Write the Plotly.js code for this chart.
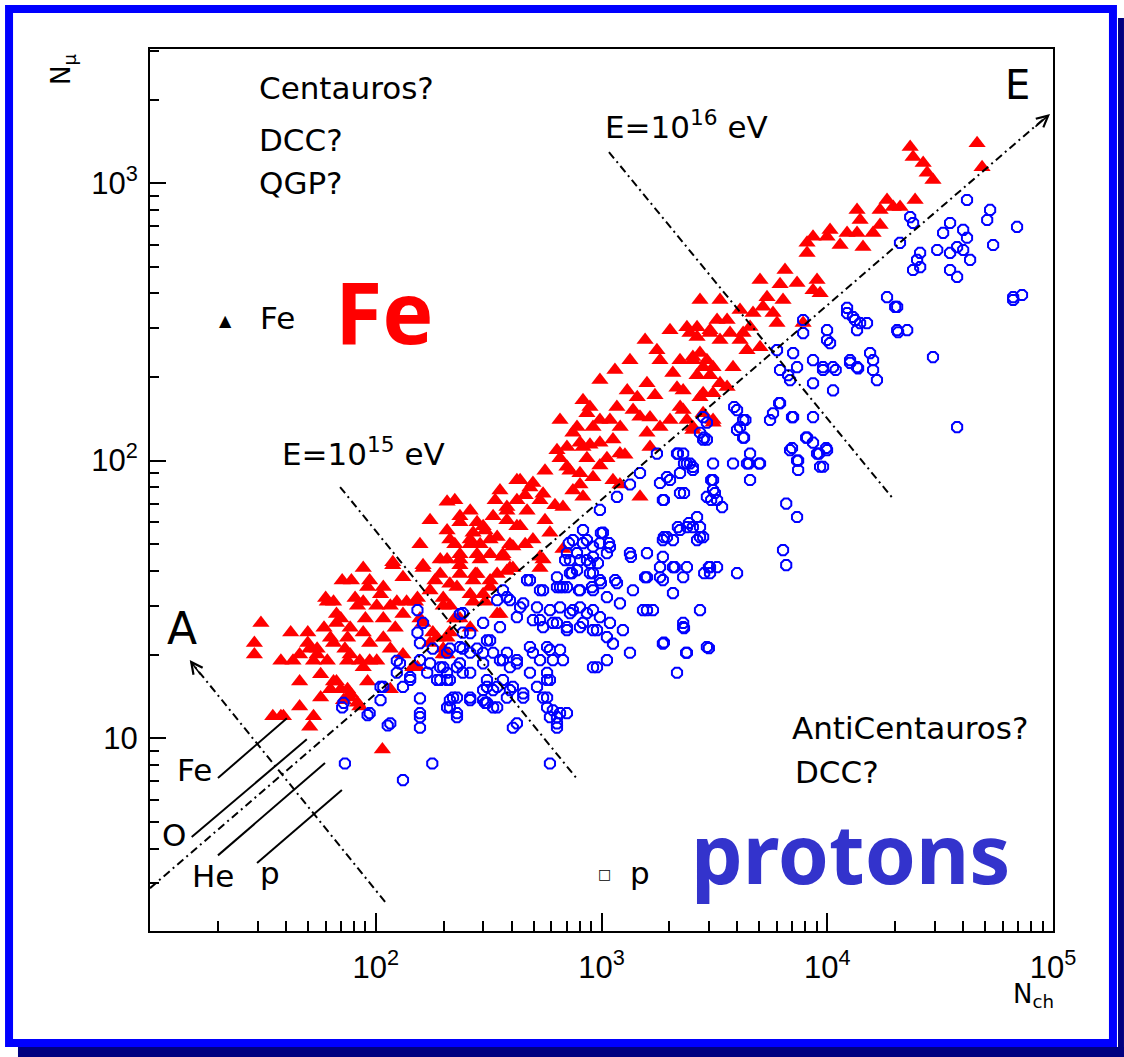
<!DOCTYPE html>
<html><head><meta charset="utf-8">
<script src="https://cdn.plot.ly/plotly-3.0.1.min.js"></script>
<style>html,body{margin:0;padding:0;background:#fff;} #chart{width:1124px;height:1057px;}</style>
</head><body><div id="chart"></div>
<script>
// Fe (red triangles): N_ch and N_mu
const feNch = [207,236,236,281,88,119,162,71,78,94,108,132,60,65,81,83,70,67,101,108,124,137,153,174,199,213,31,42,50,29,29,51,55,63,65,75,88,94,108,43,46,53,61,75,85,94,57,65,70,63,75,77,83,72,92,132,146,116,174,207,162,187,46,53,51,35,38,107,85,224,262,305,193,236,276,321,213,262,305,193,207,299,422,482,551,675,779,828,889,635,703,803,381,422,497,551,675,591,366,321,262,236,281,345,393,299,199,345,179,199,213,157,132,116,105,92,88,162,119,61,67,77,116,101,88,77,55,50,67,77,153,199,355,39,
2390,2650,3025,3250,1760,1816,2540,2820,3025,2650,2070,2160,1590,1440,1300,1380,1480,1590,1640,1170,1090,1210,984,828,862,917,1124,1207,1057,984,747,803,703,655,862,803,917,1124,1207,747,828,1481,534,2011,2300,2540,2820,3120,1816,2731,436,497,422,534,468,381,381,436,331,345,393,270,213,236,281,366,405,236,270,321,
23300,24000,26600,27700,29400,46100,48500,18400,19600,17140,21020,13550,13980,13550,14400,15960,12240,9980,8650,8140,8140,9010,8650,9300,7350,6180,6370,5410,5190,5750,5990,4690,4550,7820,4240,4108,3600,3710,3350,3025,2466,2650,4410,5040,2730,2540,2930,3120,3825,3350,3600,3120,2820,2300,2230,2390,2540,3120,
534,381,321,270,236,207,229,290,207,405,
224,262,338,355,459,622,562,459,290,174,157,183,150,122,90,73,59,38,46,57,224,262,
984,1147,1337,1560,2011,1725,984,725,889,655,562,1270,1640,2227,2731,3350,4108,5038,6500,10290,11400,17140,24500];
const feNmu = [71,63,60,60,41,42,42,37,37,37,35,38,32,31,32,30,27,26,30,27,31,31,32,34,32,30,26,24,24,22,20,21,21,23,22,23,24,22,23,19,20,19,19,19,19,19,17,16,15,15,15,14,13.4,13.7,16,20,18,15,22,20,26,23,13,12,11,12,12,9.1,13,50,52,56,44,42,39,46,36,33,31,39,56,58,85,80,76,68,132,112,156,109,95,82,66,58,52,44,48,55,46,52,50,44,39,39,41,33,30,28,24,21,24,27,28,30,33,35,31,41,43,31,28,25,21,19,18,20,20,22,16,14.5,18,20,28,12,
302,302,295,321,250,230,236,217,203,203,207,183,190,169,179,152,144,126,112,156,140,132,140,165,148,132,119,106,102,116,126,116,112,102,102,90,87,85,82,78,74,74,45,140,152,132,148,140,132,169,85,83,72,72,66,68,61,58,63,53,50,55,52,46,46,45,41,39,37,37,
1350,1240,1180,1090,1025,1390,1140,869,820,800,820,800,736,661,588,661,661,640,640,609,560,447,411,401,436,432,379,388,358,340,313,340,303,313,288,272,321,288,272,288,288,279,250,256,244,230,230,217,217,190,184,175,175,179,156,140,129,137,
41,40,35,31,27,23,35,44,44,49,
72,66,72,78,75,69,61,50,50,61,50,37,31,25,27,21,25,19,16,14,27,25,
195,212,230,272,295,172,96,92,114,140,92,105,143,230,379,379,349,447,486,678,598,706,869];

// protons (blue open markers): N_ch and N_mu
const pNch = [236,299,243,153,157,179,213,243,281,124,174,199,236,262,299,124,142,187,213,311,105,132,157,220,262,299,207,229,305,71,92,113,157,157,73,178,132,153,162,
747,828,917,725,889,779,917,482,551,675,803,917,366,393,345,450,518,591,655,725,803,917,422,497,551,635,703,828,955,243,355,321,262,299,366,422,497,591,675,482,574,366,331,393,450,518,574,609,703,635,422,331,299,262,229,213,157,193,229,243,193,169,128,142,108,105,157,116,94,72,955,
828,1015,862,984,1090,703,803,917,1057,1337,1590,1870,1950,2227,2540,2820,1816,2073,2390,3025,1590,1870,2300,725,635,984,1171,1378,655,1057,1207,2073,1527,1690,2731,381,436,747,862,984,1090,1244,534,609,703,803,917,1057,1124,2300,1870,2390,2930,1337,1057,917,2160,262,311,331,236,207,207,207,381,422,482,574,655,609,534,393,355,574,311,345,405,450,381,311,345,551,574,655,591,635,405,213,229,591,
2820,2731,2930,1760,2160,2390,2540,2227,3120,3120,3120,2930,3250,2011,1816,2227,1870,1481,1337,1171,984,2650,2390,2073,1870,2731,3250,3025,2300,468,534,703,
41600,52650,51100,69300,54300,40000,41600,35000,32600,37600,30700,35000,40000,42930,35000,37600,23300,24000,21000,25780,25000,24000,25800,66600,72900,18400,20400,12240,13000,13980,15000,13550,20400,22600,9980,9980,10290,7820,7820,29400,5990,7060,8650,7350,6180,6843,9580,10600,12620,13550,15480,15960,15960,16600,8650,10610,37600,6180,5750,5580,7060,8650,3985,4240,3985,4240,2820,2930,8140,8650,9980,6843,7350,9010,9295,4550,4410,5038,3825,2466,2300,
6580,7350,6370,6580,3985,2990,2850,2320,1890,2370,2990,1590,1560,1816,2110,1350,2650,2731,2440,2180,1890,3060,3420,3180,3060,1890,2320,1950,2320,2540,2180,4550,4500,4990,4280,4108,4340,3870,2850,6120,6980,6980,7430,7430,8060,9200,9580,9890,6710,9580,10900,12620,13700,12240,13280,19990,20600,66600,994,1080,717,779,690,862,964,889,994,1150,795,908,635,740,591,635];
const pNmu = [28,26,24,24,22,21,21,21,21,19,18.6,18,18.6,17.2,18.6,17.2,16.2,16.2,16.2,16.2,15.3,15.3,13.9,14,14,14.9,12.9,11.9,13.4,12.9,12.1,11.1,11.9,10.9,8.1,8.1,7.06,28.9,26,
51.7,50.4,49,43.8,42.7,40.3,39.3,37.1,34.1,35,34.1,34.1,34.1,31.4,31.4,30.6,29.6,28.9,29.6,28.2,29.6,28.9,27.3,26.6,25.1,26,24.5,26,24.5,28.2,25.1,22.5,20.3,20.3,19.1,18.6,20.3,20.8,19.1,17.2,17.2,16.2,14.9,14.9,14.5,15.3,14,12.6,12.3,11.3,11.3,12.9,13.7,13.7,14,12.9,19.1,18,18,17.2,16.2,17.2,18.6,16.6,15.3,13.7,12.3,11.3,12.3,13.4,18,
56.2,55,51.7,50.4,48.8,46.4,43.8,45,46.4,46.4,46.4,45,53,56.2,57.6,53,41.3,41.3,41.3,41.3,38,37.1,38,39.3,38,37.1,36.2,34.1,35,32.2,30.6,33.3,28.9,28.9,28.9,32.2,29.6,28.9,28.2,27.3,26,24.5,26.6,26,25.1,25.1,24.5,23.1,21.9,25.1,21.9,20.3,21.3,20.3,19.1,18,17.2,23.9,22.5,20.3,21.3,20.3,17.2,16.2,20.3,19.1,21.3,21.3,20.8,19.1,19.1,18,19.1,16.2,15.3,15.3,15.3,14,14,13.4,12.9,14,12.9,12.3,11.9,10.9,10.9,13.7,12.3,8.1,
143.5,126,119,106,106,97.6,92.5,90.2,97.6,85.1,78.3,74,72.1,85.1,83,76.4,72.1,90.2,82,74,66.4,62.6,57.6,51.7,51.7,53,41.3,39.3,26,37.1,34.1,35,
869,800,736,695,598,678,635,718,661,588,574,560,574,529,486,459,754,718,609,560,529,486,498,388,395,388,358,355,329,313,313,295,295,295,295,272,265,321,288,236,250,244,230,217,212,195,217,217,230,217,244,230,212,195,190,179,132,161,148,140,143.5,143.5,152,140,129,121,119,137,121,116,109,109,100,106,95,106,97.6,97.6,97.6,97.6,106,
70,62.6,47.6,42,39.3,41.3,39.3,24.9,22.1,20.3,21.1,28.9,38,38,41.3,45,51.7,57.6,59.6,57.6,53,72.1,68,76.4,85.1,72.1,76.4,87.2,97.6,94.8,106,85.1,97.6,97.6,121,132,140,156,121,161,143.5,111,100,92.5,121,106,95,111,203,212,212,225,215,340,321,358,290,379,54.8,50.4,50.4,46.4,43.8,43.8,42.7,39.3,36.2,37.1,34.1,35,35,39.3,16.2,11.9];

// guide lines (N_ch, N_mu end points)
const eAxisNch = [10, 93100], eAxisNmu = [2.88, 1730];
const aAxisNch = [110, 15.2], aAxisNmu = [2.57, 18.8];
const e15Nch = [69.5, 787], e15Nmu = [80.3, 7.06];
const e16Nch = [1079, 19780], e16Nmu = [1293, 72.1];
const feLineNch = [20.0, 40.4], feLineNmu = [7.18, 11.8];
const oLineNch = [15.3, 49.5], oLineNmu = [4.40, 9.9];
const heLineNch = [20.0, 59.6], heLineNmu = [3.78, 8.13];
const pLineNch = [29.8, 70.8], pLineNmu = [3.55, 6.50];
const eArrowTip = [97000, 1774];
const aArrowTip = [15.0, 19.1];

// ticks
const xTickVals = [100, 1000, 10000, 100000];
const xTickText = ['10<sup>2</sup>', '10<sup>3</sup>', '10<sup>4</sup>', '10<sup>5</sup>'];
const yTickVals = [10, 100, 1000];
const yTickText = ['10', '10<sup>2</sup>', '10<sup>3</sup>'];
const xMinor = [20,30,40,50,60,70,80,90,200,300,400,500,600,700,800,900,2000,3000,4000,5000,6000,7000,8000,9000,20000,30000,40000,50000,60000,70000,80000,90000];
const yMinor = [3,4,5,6,7,8,9,20,30,40,50,60,70,80,90,200,300,400,500,600,700,800,900,2000,3000];

const dashA = '8px,4px,2px,4px';
const lineTrace = (x, y, dash) => ({x: x, y: y, type: 'scatter', mode: 'lines', hoverinfo: 'skip',
  line: {color: '#000', width: 2, dash: dash}, showlegend: false});

const traces = [
  {x: feNch, y: feNmu, type: 'scatter', mode: 'markers', showlegend: false,
   marker: {symbol: 'triangle-up', size: 15, color: '#ff0000', line: {width: 0}}},
  {x: pNch, y: pNmu, type: 'scatter', mode: 'markers', showlegend: false,
   marker: {symbol: 'octagon-open', size: 11, color: '#0000ff', line: {width: 2, color: '#0000ff'}}},
  lineTrace(eAxisNch, eAxisNmu, dashA),
  lineTrace(aAxisNch, aAxisNmu, dashA),
  lineTrace(e15Nch, e15Nmu, dashA),
  lineTrace(e16Nch, e16Nmu, dashA),
  lineTrace(feLineNch, feLineNmu, 'solid'),
  lineTrace(oLineNch, oLineNmu, 'solid'),
  lineTrace(heLineNch, heLineNmu, 'solid'),
  lineTrace(pLineNch, pLineNmu, 'solid')
];

const TF = 'DejaVu Sans';
const txt = (text, x, y, opts) => Object.assign({text: text, x: x, y: y, xref: 'paper', yref: 'paper',
  showarrow: false, xanchor: 'left', yanchor: 'middle', font: {family: TF, size: 31, color: '#000'}}, opts || {});

const annotations = [
  txt('Centauros?', 0.1185, 0.9558),
  txt('DCC?', 0.1185, 0.8968),
  txt('QGP?', 0.1185, 0.8481),
  txt('▲', 0.0831, 0.6927, {xanchor: 'center', font: {family: TF, size: 16, color: '#000'}}),
  txt('Fe', 0.1196, 0.695),
  txt('<b>Fe</b>', 0.2027, 0.704, {font: {family: 'Noto Sans', size: 86, color: '#ff0000'}}),
  txt('E=10<sup>16</sup> eV', 0.5017, 0.9138),
  txt('E=10<sup>15</sup> eV', 0.144, 0.543),
  txt('E', 0.9612, 0.959, {xanchor: 'center', font: {family: TF, size: 40, color: '#000'}}),
  txt('A', 0.0354, 0.3435, {xanchor: 'center', font: {family: TF, size: 44, color: '#000'}}),
  txt('Fe', 0.0277, 0.1825),
  txt('O', 0.011, 0.1088),
  txt('He', 0.0443, 0.0624),
  txt('p', 0.1196, 0.0658),
  txt('AntiCentauros?', 0.7087, 0.2302),
  txt('DCC?', 0.712, 0.1803),
  txt('□', 0.5028, 0.0646, {xanchor: 'center', font: {family: TF, size: 14, color: '#000'}}),
  txt('p', 0.5293, 0.0658),
  txt('<b>protons</b>', 0.7752, 0.0896, {xanchor: 'center', font: {family: 'Noto Sans', size: 82, color: '#3333cc'}}),
  txt('N<sub>μ</sub>', -0.0963, 0.9762, {xanchor: 'center', textangle: -90, font: {family: TF, size: 26, color: '#000'}}),
  txt('N<sub>ch</sub>', 0.9779, -0.0726, {xanchor: 'center', font: {family: TF, size: 26, color: '#000'}}),
  {x: Math.log10(eArrowTip[0]), y: Math.log10(eArrowTip[1]), xref: 'x', yref: 'y', text: '', showarrow: true,
   ax: -16, ay: 14, arrowhead: 5, arrowsize: 1.4, arrowwidth: 1.6, arrowcolor: '#000'},
  {x: Math.log10(aArrowTip[0]), y: Math.log10(aArrowTip[1]), xref: 'x', yref: 'y', text: '', showarrow: true,
   ax: 12, ay: 16, arrowhead: 5, arrowsize: 1.4, arrowwidth: 1.6, arrowcolor: '#000'}
];

const shapes = [
  {type: 'rect', xref: 'paper', yref: 'paper', x0: -0.1462, x1: 1.0786, y0: -0.1429, y1: -0.1315,
   fillcolor: '#000080', line: {width: 0}},
  {type: 'rect', xref: 'paper', yref: 'paper', x0: 1.0720, x1: 1.0786, y0: -0.1429, y1: 1.0351,
   fillcolor: '#000080', line: {width: 0}},
  {type: 'rect', xref: 'paper', yref: 'paper', x0: -0.1561, x1: 1.0664, y0: -0.1270, y1: 1.0454,
   line: {color: '#0000ff', width: 8}}
];

const axisCommon = {type: 'log', ticks: 'inside', tickwidth: 2, tickcolor: '#000', showline: true,
  linecolor: '#000', linewidth: 2, mirror: true, showgrid: false, zeroline: false,
  tickfont: {family: 'Liberation Sans', size: 31, color: '#000'}};

const layout = {
  width: 1124, height: 1057,
  margin: {l: 150, r: 71, t: 49, b: 126, pad: 0},
  paper_bgcolor: '#ffffff', plot_bgcolor: '#ffffff',
  showlegend: false,
  xaxis: Object.assign({}, axisCommon, {range: [1, 5], tickmode: 'array', tickvals: xTickVals, ticktext: xTickText,
    ticklen: 18, ticklabelstandoff: 8,
    minor: {tickmode: 'array', tickvals: xMinor, ticks: 'inside', ticklen: 10, tickwidth: 2, tickcolor: '#000', showgrid: false}}),
  yaxis: Object.assign({}, axisCommon, {range: [0.305, 3.483], tickmode: 'array', tickvals: yTickVals, ticktext: yTickText,
    ticklen: 16, ticklabelstandoff: 4,
    minor: {tickmode: 'array', tickvals: yMinor, ticks: 'inside', ticklen: 9, tickwidth: 2, tickcolor: '#000', showgrid: false}}),
  annotations: annotations,
  shapes: shapes
};

Plotly.newPlot('chart', traces, layout, {displayModeBar: false, staticPlot: true});
</script></body></html>
